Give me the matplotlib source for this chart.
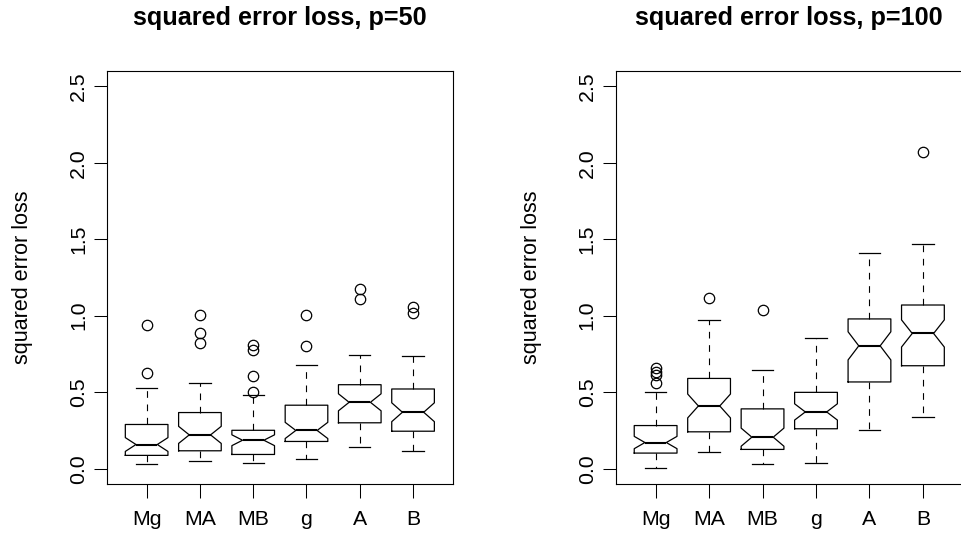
import numpy as np
import matplotlib.pyplot as plt

plt.rcParams['font.family'] = ['Liberation Sans', 'DejaVu Sans']

groups = ['Mg', 'MA', 'MB', 'g', 'A', 'B']
n_runs = 50  # runs per method, used for the notch width

# p = 50
p50_whislo = [0.033, 0.048, 0.039, 0.063, 0.145, 0.115]
p50_q1 = [0.087, 0.117, 0.093, 0.178, 0.300, 0.245]
p50_med = [0.158, 0.221, 0.186, 0.250, 0.434, 0.369]
p50_q3 = [0.289, 0.367, 0.251, 0.415, 0.549, 0.521]
p50_whishi = [0.525, 0.558, 0.482, 0.679, 0.745, 0.738]
p50_fliers = [[0.623, 0.942],
              [0.821, 0.886, 1.005],
              [0.502, 0.608, 0.773, 0.810],
              [0.799, 1.007],
              [1.112, 1.173],
              [1.016, 1.055]]

# p = 100
p100_whislo = [0.006, 0.111, 0.028, 0.039, 0.254, 0.341]
p100_q1 = [0.102, 0.241, 0.126, 0.261, 0.567, 0.673]
p100_med = [0.171, 0.410, 0.206, 0.371, 0.803, 0.884]
p100_q3 = [0.282, 0.590, 0.391, 0.499, 0.979, 1.070]
p100_whishi = [0.504, 0.973, 0.642, 0.853, 1.413, 1.466]
p100_fliers = [[0.560, 0.614, 0.629, 0.658],
               [1.114],
               [1.038],
               [],
               [],
               [2.067]]


def make_stats(whislo, q1, med, q3, whishi, fliers):
    stats = []
    for i in range(len(groups)):
        half = 1.58 * (q3[i] - q1[i]) / np.sqrt(n_runs)
        stats.append(dict(label=groups[i], whislo=whislo[i], q1=q1[i], med=med[i],
                          q3=q3[i], whishi=whishi[i], fliers=fliers[i],
                          cilo=med[i] - half, cihi=med[i] + half))
    return stats


def draw_panel(ax, stats, title):
    ax.bxp(stats, shownotches=True, widths=0.8, capwidths=0.4,
           boxprops=dict(color='black', linewidth=0.9),
           medianprops=dict(color='black', linewidth=1.5),
           whiskerprops=dict(color='black', linewidth=0.8, linestyle=(0, (6, 6))),
           capprops=dict(color='black', linewidth=0.9),
           flierprops=dict(marker='o', markerfacecolor='none', markeredgecolor='black',
                           markersize=7.5, markeredgewidth=0.9))
    ax.set_xlim(0.25, 6.75)
    ax.set_ylim(-0.1, 2.6)
    ax.set_yticks([0.0, 0.5, 1.0, 1.5, 2.0, 2.5])
    ax.set_yticklabels(['0.0', '0.5', '1.0', '1.5', '2.0', '2.5'])
    ax.tick_params(axis='y', labelrotation=90, length=9.5, width=0.75, pad=4, labelsize=15.3)
    ax.tick_params(axis='x', length=10, width=0.75, pad=9, labelsize=15.3)
    for lbl in ax.get_yticklabels():
        lbl.set_va('center')
    for sp in ax.spines.values():
        sp.set_linewidth(0.8)
    ax.set_ylabel('squared error loss', fontsize=15.5, labelpad=26)
    ax.set_title(title, fontsize=18.2, fontweight='bold', pad=33)


fig = plt.figure(figsize=(9.61, 5.38), dpi=100)
ax1 = fig.add_axes([0.111, 0.1004, 0.3604, 0.7677])
ax2 = fig.add_axes([0.6405, 0.1004, 0.3616, 0.7677])

draw_panel(ax1, make_stats(p50_whislo, p50_q1, p50_med, p50_q3, p50_whishi, p50_fliers),
           'squared error loss, p=50')
draw_panel(ax2, make_stats(p100_whislo, p100_q1, p100_med, p100_q3, p100_whishi, p100_fliers),
           'squared error loss, p=100')

fig.savefig('out.png', dpi=100)
